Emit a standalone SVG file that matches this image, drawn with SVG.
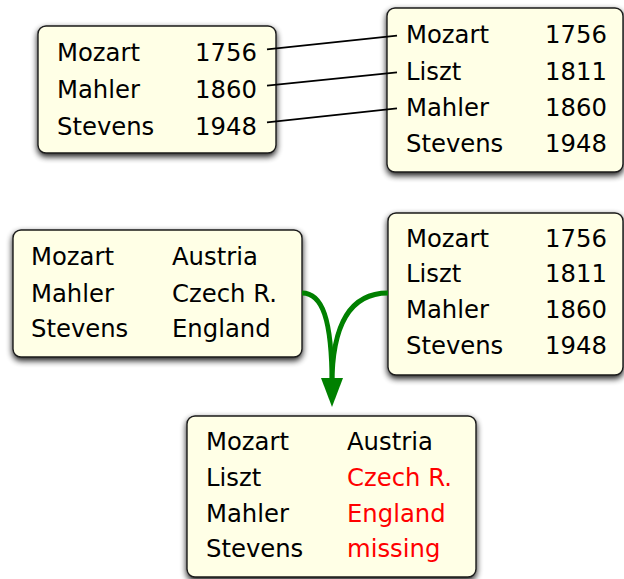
<svg xmlns="http://www.w3.org/2000/svg" width="624" height="579" viewBox="0 0 624 579">
  <style>
    .box { fill: #ffffe6; stroke: #1a1a1a; stroke-width: 1.4; filter: url(#shadow); }
    text { font-family: "DejaVu Sans", "Liberation Sans", sans-serif; font-size: 24.3px; fill: #000; }
    text.red { fill: #ff0000; }
    .link { stroke: #000; stroke-width: 1.7; fill: none; }
    .merge { stroke: #008000; stroke-width: 4.8; fill: none; }
  </style>
  <defs>
    <filter id="shadow" x="-10%" y="-10%" width="120%" height="125%">
      <feGaussianBlur in="SourceAlpha" stdDeviation="3.4"/>
      <feOffset dx="0" dy="2.5" result="blur"/>
      <feComponentTransfer><feFuncA type="linear" slope="0.9"/></feComponentTransfer>
      <feMerge><feMergeNode/><feMergeNode in="SourceGraphic"/></feMerge>
    </filter>
  </defs>

  <rect width="624" height="579" fill="#fff"/>

  <!-- top left table -->
  <g id="years-a">
    <rect class="box" x="38" y="26" width="238" height="127" rx="8"/>
    <text x="57" y="61">Mozart</text><text x="195" y="61">1756</text>
    <text x="57" y="98">Mahler</text><text x="195" y="98">1860</text>
    <text x="57" y="135">Stevens</text><text x="195" y="135">1948</text>
  </g>

  <!-- top right table -->
  <g id="years-b">
    <rect class="box" x="387" y="8" width="236" height="164" rx="8"/>
    <text x="406" y="43">Mozart</text><text x="545" y="43">1756</text>
    <text x="406" y="80">Liszt</text><text x="545" y="80">1811</text>
    <text x="406" y="116">Mahler</text><text x="545" y="116">1860</text>
    <text x="406" y="152">Stevens</text><text x="545" y="152">1948</text>
  </g>

  <!-- middle left table -->
  <g id="countries">
    <rect class="box" x="13" y="230" width="289" height="127" rx="8"/>
    <text x="31" y="265">Mozart</text><text x="172" y="265">Austria</text>
    <text x="31" y="302">Mahler</text><text x="172" y="302">Czech R.</text>
    <text x="31" y="337">Stevens</text><text x="172" y="337">England</text>
  </g>

  <!-- middle right table -->
  <g id="years-c">
    <rect class="box" x="388" y="213" width="235" height="162" rx="8"/>
    <text x="406" y="247">Mozart</text><text x="545" y="247">1756</text>
    <text x="406" y="282">Liszt</text><text x="545" y="282">1811</text>
    <text x="406" y="318">Mahler</text><text x="545" y="318">1860</text>
    <text x="406" y="354">Stevens</text><text x="545" y="354">1948</text>
  </g>

  <!-- merged result -->
  <g id="merged">
    <rect class="box" x="187" y="416" width="289" height="161" rx="8"/>
    <text x="206" y="450">Mozart</text><text x="347" y="450">Austria</text>
    <text x="206" y="486">Liszt</text><text class="red" x="347" y="486">Czech R.</text>
    <text x="206" y="522">Mahler</text><text class="red" x="347" y="522">England</text>
    <text x="206" y="557">Stevens</text><text class="red" x="347" y="557">missing</text>
  </g>

  <!-- connectors -->
  <g id="connectors">
    <line class="link" x1="267" y1="49.3" x2="397" y2="35.7"/>
    <line class="link" x1="267" y1="85.7" x2="397" y2="72.3"/>
    <line class="link" x1="267" y1="122.3" x2="397" y2="108.3"/>
    <path class="merge" d="M302,293 C322,293 332,318 332,385"/>
    <path class="merge" d="M388,293 C348,293 332,328 332,385"/>
    <polygon points="321,378 343,378 332,407" fill="#008000"/>
  </g>
</svg>
